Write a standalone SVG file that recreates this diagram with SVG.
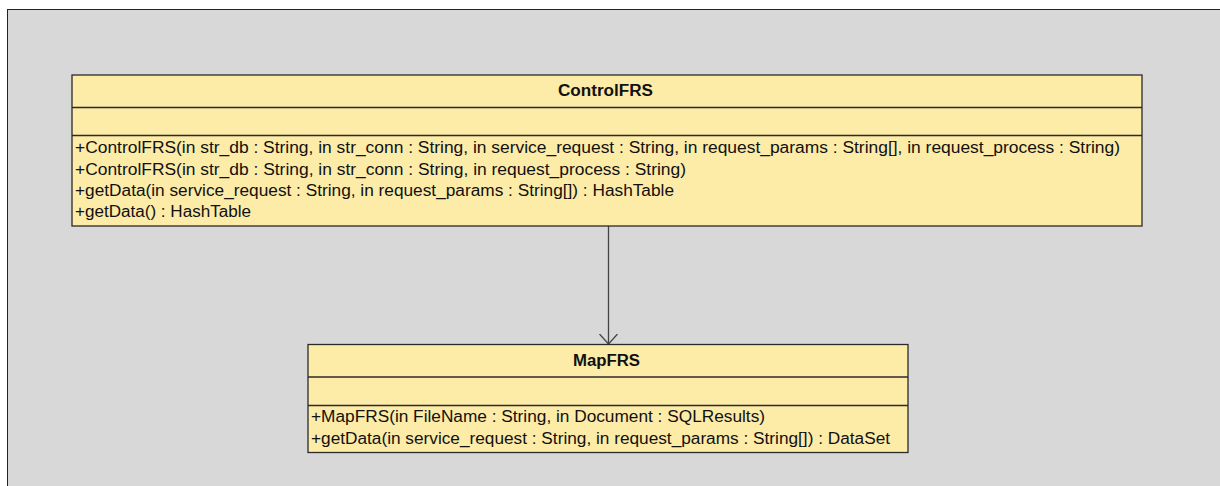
<svg xmlns="http://www.w3.org/2000/svg" width="1220" height="486" viewBox="0 0 1220 486">
<defs>
<style>
.box{fill:#fdeba8;stroke:#2a2a2a;stroke-width:1.3}
.div{stroke:#2a2a2a;stroke-width:1.3}
.t{font-family:"Liberation Sans",Arial,sans-serif;font-size:16px;fill:#111}
.h{font-family:"Liberation Sans",Arial,sans-serif;font-size:16px;font-weight:bold;fill:#111}
.c{stroke:#444;stroke-width:1.3;fill:none}
</style>
<marker id="open" viewBox="0 0 20 20" refX="10" refY="10" markerWidth="20" markerHeight="20" markerUnits="userSpaceOnUse" orient="auto">
<path d="M0,1 L10,10 L0,19" fill="none" stroke="#444" stroke-width="1.3"/>
</marker>
</defs>
<rect x="0" y="0" width="1220" height="486" fill="#ffffff"/>
<rect x="7.5" y="9.5" width="1220" height="490" fill="#d8d8d8" stroke="#222" stroke-width="1"/>
<g id="connectors">
<line class="c" x1="608.5" y1="226" x2="608.5" y2="344" marker-end="url(#open)"/>
</g>
<g id="ControlFRS">
<rect class="box" x="72" y="75" width="1070" height="151"/>
<line class="div" x1="72" y1="107.5" x2="1142" y2="107.5"/>
<line class="div" x1="72" y1="135.5" x2="1142" y2="135.5"/>
<text class="h" x="558" y="95.5" textLength="95" lengthAdjust="spacingAndGlyphs">ControlFRS</text>
<text class="t" x="75" y="153" textLength="1045" lengthAdjust="spacingAndGlyphs">+ControlFRS(in str_db : String, in str_conn : String, in service_request : String, in request_params : String[], in request_process : String)</text>
<text class="t" x="75" y="174.5" textLength="611" lengthAdjust="spacingAndGlyphs">+ControlFRS(in str_db : String, in str_conn : String, in request_process : String)</text>
<text class="t" x="75" y="195.5" textLength="599" lengthAdjust="spacingAndGlyphs">+getData(in service_request : String, in request_params : String[]) : HashTable</text>
<text class="t" x="75" y="217" textLength="176" lengthAdjust="spacingAndGlyphs">+getData() : HashTable</text>
</g>
<g id="MapFRS">
<rect class="box" x="308" y="344.5" width="600" height="108"/>
<line class="div" x1="308" y1="377" x2="908" y2="377"/>
<line class="div" x1="308" y1="405.5" x2="908" y2="405.5"/>
<text class="h" x="573" y="366" textLength="67" lengthAdjust="spacingAndGlyphs">MapFRS</text>
<text class="t" x="311" y="422" textLength="454" lengthAdjust="spacingAndGlyphs">+MapFRS(in FileName : String, in Document : SQLResults)</text>
<text class="t" x="311" y="443.5" textLength="579" lengthAdjust="spacingAndGlyphs">+getData(in service_request : String, in request_params : String[]) : DataSet</text>
</g>
</svg>
